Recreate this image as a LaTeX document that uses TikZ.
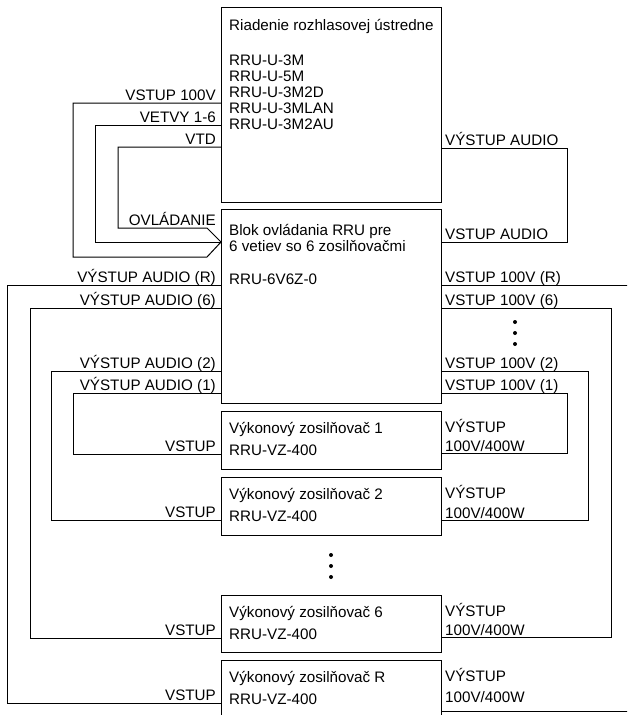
\documentclass[tikz,border=0pt]{standalone}
\usepackage{fontspec}
\setmainfont{Liberation Sans}
\begin{document}
\begin{tikzpicture}[x=1pt,y=-1pt,
  box/.style={draw, line width=1pt, minimum width=220pt, anchor=north west, inner sep=0pt, outer sep=0pt},
  wire/.style={draw, line width=1pt},
  txt/.style={inner sep=0pt, font=\fontsize{15.2}{18}\selectfont},
  lt/.style={txt, anchor=base west},
  rt/.style={txt, anchor=base east},
  dot/.style={circle, fill, inner sep=0pt, minimum size=4pt}]
\path[use as bounding box, clip] (0,0) rectangle (627,715);

% boxes
\node[box, minimum height=195pt] (ctrl) at (221,7) {};
\node[box, minimum height=194pt] (blok) at (221,209) {};
\node[box, minimum height=58pt] (amp1) at (221,411) {};
\node[box, minimum height=58pt] (amp2) at (221,477) {};
\node[box, minimum height=57pt] (amp6) at (221,595) {};
\node[box, minimum height=70pt] (ampR) at (221,660) {};

% box texts
\node[lt] (c1) at (229,30) {Riadenie rozhlasovej ústredne};
\node[lt] (c2) at (229,65) {RRU-U-3M};
\node[lt] (c3) at (229,81) {RRU-U-5M};
\node[lt] (c4) at (229,97) {RRU-U-3M2D};
\node[lt] (c5) at (229,113) {RRU-U-3MLAN};
\node[lt] (c6) at (229,129) {RRU-U-3M2AU};

\node[lt] (b1) at (229,235) {Blok ovládania RRU pre};
\node[lt] (b2) at (229,251) {6 vetiev so 6 zosilňovačmi};
\node[lt] (b3) at (229,284) {RRU-6V6Z-0};

\node[lt] (a1a) at (229,433) {Výkonový zosilňovač 1};
\node[lt] (a1b) at (229,455) {RRU-VZ-400};
\node[lt] (a2a) at (229,499) {Výkonový zosilňovač 2};
\node[lt] (a2b) at (229,521) {RRU-VZ-400};
\node[lt] (a6a) at (229,617) {Výkonový zosilňovač 6};
\node[lt] (a6b) at (229,639) {RRU-VZ-400};
\node[lt] (aRa) at (229,682) {Výkonový zosilňovač R};
\node[lt] (aRb) at (229,704) {RRU-VZ-400};

% inputs to control block
\coordinate (tip) at (blok.west |- 0,242);
\draw[wire] (ctrl.west |- 0,103) -| (73,257) -- (207,257) -- (tip);
\draw[wire] (ctrl.west |- 0,125) -| (95,242) -- (tip);
\draw[wire] (ctrl.west |- 0,147) -| (118,228) -- (207,228) -- (tip);
\node[rt] (l1) at (216,100) {VSTUP 100V};
\node[rt] (l2) at (216,122) {VETVY 1-6};
\node[rt] (l3) at (216,144) {VTD};
\node[rt] (l4) at (216,225) {OVLÁDANIE};

% audio loop
\draw[wire] (ctrl.east |- 0,148) -| (567,242) -- (blok.east |- 0,242);
\node[lt] (r1) at (445,145) {VÝSTUP AUDIO};
\node[lt] (r2) at (445,239) {VSTUP AUDIO};

% left audio outputs
\draw[wire] (blok.west |- 0,285) -| (7,703) -- (ampR.west |- 0,703);
\draw[wire] (blok.west |- 0,308) -| (30,638) -- (amp6.west |- 0,638);
\draw[wire] (blok.west |- 0,371) -| (51,520) -- (amp2.west |- 0,520);
\draw[wire] (blok.west |- 0,393) -| (73,454) -- (amp1.west |- 0,454);
\node[rt] (o1) at (216,282) {VÝSTUP AUDIO (R)};
\node[rt] (o2) at (216,305) {VÝSTUP AUDIO (6)};
\node[rt] (o3) at (216,368) {VÝSTUP AUDIO (2)};
\node[rt] (o4) at (216,390) {VÝSTUP AUDIO (1)};
\node[rt] (v1) at (216,451) {VSTUP};
\node[rt] (v2) at (216,517) {VSTUP};
\node[rt] (v6) at (216,635) {VSTUP};
\node[rt] (vR) at (216,700) {VSTUP};

% right 100V returns
\draw[wire] (blok.east |- 0,285) -| (660,711) -- (ampR.east |- 0,711);
\draw[wire] (blok.east |- 0,308) -| (611,637) -- (amp6.east |- 0,637);
\draw[wire] (blok.east |- 0,371) -| (588,520) -- (amp2.east |- 0,520);
\draw[wire] (blok.east |- 0,393) -| (567,453) -- (amp1.east |- 0,453);
\node[lt] (i1) at (445,282) {VSTUP 100V (R)};
\node[lt] (i2) at (445,305) {VSTUP 100V (6)};
\node[lt] (i3) at (445,368) {VSTUP 100V (2)};
\node[lt] (i4) at (445,390) {VSTUP 100V (1)};
\node[lt] (p1a) at (445,432) {VÝSTUP};
\node[lt] (p1b) at (445,451) {100V/400W};
\node[lt] (p2a) at (445,498) {VÝSTUP};
\node[lt] (p2b) at (445,518) {100V/400W};
\node[lt] (p6a) at (445,616) {VÝSTUP};
\node[lt] (p6b) at (445,635) {100V/400W};
\node[lt] (pRa) at (445,681) {VÝSTUP};
\node[lt] (pRb) at (445,702) {100V/400W};

% ellipsis dots
\node[dot] (d1) at (515,322) {};
\node[dot] (d2) at (515,333) {};
\node[dot] (d3) at (515,344) {};
\node[dot] (d4) at (331,555) {};
\node[dot] (d5) at (331,566) {};
\node[dot] (d6) at (331,577) {};
\end{tikzpicture}
\end{document}
